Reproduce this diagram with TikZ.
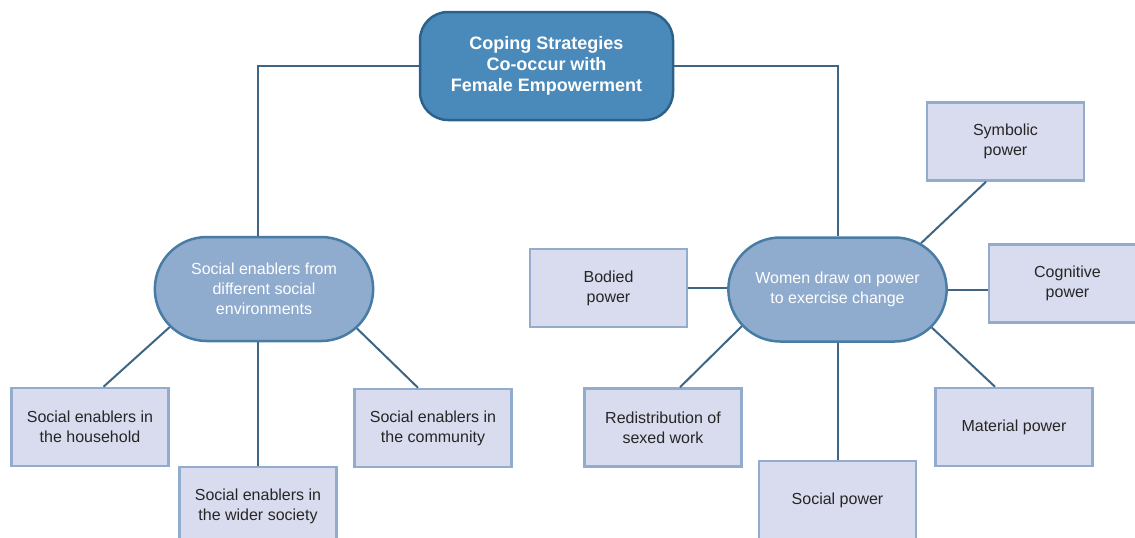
\documentclass[tikz,border=0pt]{standalone}
\usepackage{fontspec}
\setmainfont{Liberation Sans}
\usetikzlibrary{shapes.misc,positioning,calc}
\definecolor{topblue}{RGB}{74,138,186}
\definecolor{topline}{RGB}{44,98,138}
\definecolor{ovalblue}{RGB}{143,171,206}
\definecolor{ovalline}{RGB}{72,124,164}
\definecolor{boxfill}{RGB}{217,220,238}
\definecolor{boxline}{RGB}{146,172,206}
\definecolor{linkcol}{RGB}{62,102,132}
\definecolor{txt}{RGB}{38,38,38}
\tikzstyle{headline} = [draw=topline, fill=topblue, line width=2.5pt, rounded corners=28pt, minimum width=253pt, minimum height=108pt, align=center, text=white, font=\fontsize{18}{21}\selectfont\bfseries]
\tikzstyle{theme} = [draw=ovalline, fill=ovalblue, line width=2.5pt, shape=rounded rectangle, minimum width=225pt, minimum height=104pt, align=center, text=white, font=\fontsize{16}{20}\selectfont]
\tikzstyle{factor} = [draw=boxline, fill=boxfill, line width=2.5pt, shape=rectangle, minimum width=157pt, minimum height=78pt, align=center, text=txt, font=\fontsize{16}{20}\selectfont]
\tikzstyle{Link} = [draw=linkcol, line width=2pt]

\begin{document}
\begin{tikzpicture}[x=1pt, y=-1pt]
            \useasboundingbox (0,0) rectangle (1135,538);
            \node (tp) [headline] at (546.5,66) {Coping Strategies\\Co-occur with\\Female Empowerment};
            %%%%% Social enablers %%%%%
            \node (lo) [theme] at (264,289) {Social enablers from\\different social\\environments};
            \node (hh) [factor] at (90,427) {Social enablers in\\the household};
            \node (ws) [factor] at (258,506) {Social enablers in\\the wider society};
            \node (cm) [factor] at (433,428) {Social enablers in\\the community};
            %%%%% Power %%%%%
            \node (ro) [theme] at (837.5,289.5) {Women draw on power\\to exercise change};
            \node (sy) [factor] at (1005.5,141.5) {Symbolic\\power};
            \node (bd) [factor] at (608.5,288) {Bodied\\power};
            \node (cg) [factor] at (1067.5,283.5) {Cognitive\\power};
            \node (rd) [factor] at (663,427.5) {Redistribution of\\sexed work};
            \node (sp) [factor] at (837.5,500) {Social power};
            \node (mt) [factor] at (1014,427) {Material power};

            %%%%% Edges %%%%%
            \draw [Link] (tp.west) -| (lo.north -| ws.north);
            \draw [Link] (tp.east) -| (ro.north);
            \draw [Link] ([xshift=13.5pt]hh.north) -- (lo.202);
            \draw [Link] (lo.south -| ws.north) -- (ws.north);
            \draw [Link] ([xshift=-15pt]cm.north) -- (lo.337);
            \draw [Link] ([xshift=-19.5pt]sy.south) -- (ro.29);
            \draw [Link] (bd.east) -- (bd.east -| ro.west);
            \draw [Link] (ro.east) -- (ro.east -| cg.west);
            \draw [Link] ([xshift=17pt]rd.north) -- (ro.201);
            \draw [Link] (ro.south) -- (sp.north);
            \draw [Link] ([xshift=-19pt]mt.north) -- (ro.338);
\end{tikzpicture}
\end{document}
